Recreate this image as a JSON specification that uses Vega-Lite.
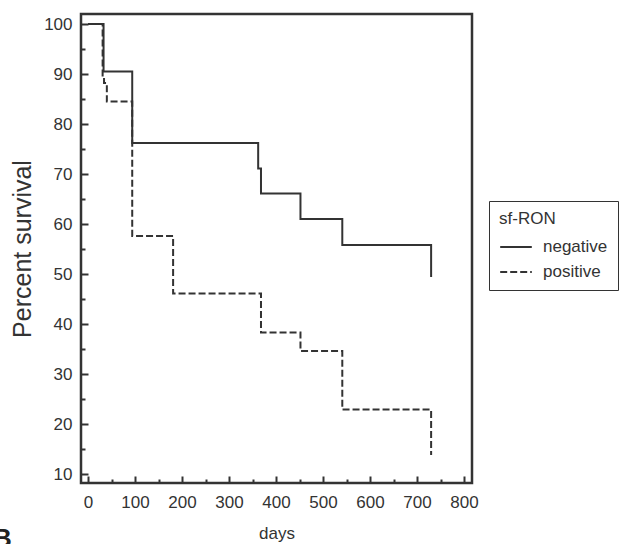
{
  "$schema": "https://vega.github.io/schema/vega-lite/v6.json",
  "width": 391,
  "height": 469,
  "autosize": {"type": "none"},
  "padding": {"left": 81, "top": 14, "right": 169, "bottom": 61},
  "background": "white",
  "title": {"text": "B", "orient": "bottom", "anchor": "start", "frame": "group", "fontSize": 26, "fontWeight": "bold", "color": "#222", "dx": -88, "dy": -15, "offset": 0, "baseline": "top"},
  "config": {
    "font": "Liberation Sans",
    "view": {"stroke": "#333", "strokeWidth": 2.5},
    "axis": {"grid": false, "domain": false, "tickColor": "#333", "tickWidth": 2, "labelColor": "#333", "titleColor": "#333", "titleFontWeight": "normal", "labelOverlap": false, "labelFlush": false}
  },
  "data": {
    "values": [
      {"sfRON": "negative", "i": 1, "days": 0, "survival": 100},
      {"sfRON": "negative", "i": 2, "days": 33, "survival": 90.5},
      {"sfRON": "negative", "i": 3, "days": 94, "survival": 76.2},
      {"sfRON": "negative", "i": 4, "days": 362, "survival": 71.1},
      {"sfRON": "negative", "i": 5, "days": 368, "survival": 66.1},
      {"sfRON": "negative", "i": 6, "days": 452, "survival": 61},
      {"sfRON": "negative", "i": 7, "days": 541, "survival": 55.8},
      {"sfRON": "negative", "i": 8, "days": 730, "survival": 55.8},
      {"sfRON": "negative", "i": 9, "days": 730, "survival": 49.4},
      {"sfRON": "positive", "i": 1, "days": 0, "survival": 100},
      {"sfRON": "positive", "i": 2, "days": 31, "survival": 89.5},
      {"sfRON": "positive", "i": 3, "days": 34, "survival": 88.2},
      {"sfRON": "positive", "i": 4, "days": 40, "survival": 84.5},
      {"sfRON": "positive", "i": 5, "days": 94, "survival": 57.6},
      {"sfRON": "positive", "i": 6, "days": 181, "survival": 46.1},
      {"sfRON": "positive", "i": 7, "days": 368, "survival": 38.3},
      {"sfRON": "positive", "i": 8, "days": 452, "survival": 34.6},
      {"sfRON": "positive", "i": 9, "days": 541, "survival": 22.9},
      {"sfRON": "positive", "i": 10, "days": 730, "survival": 22.9},
      {"sfRON": "positive", "i": 11, "days": 730, "survival": 13.8}
    ]
  },
  "mark": {"type": "line", "interpolate": "step-after", "strokeWidth": 2, "color": "#333"},
  "encoding": {
    "x": {
      "field": "days", "type": "quantitative",
      "scale": {"domain": [-15, 817], "nice": false, "zero": false},
      "axis": {
        "title": "days", "titleFontSize": 17, "titlePadding": 12,
        "values": [0, 50, 100, 150, 200, 250, 300, 350, 400, 450, 500, 550, 600, 650, 700, 750, 800],
        "labelExpr": "datum.value % 100 === 0 ? datum.label : ''",
        "labelFontSize": 17, "labelPadding": 18,
        "tickSize": {"condition": {"test": "datum.value % 100 === 0", "value": -7}, "value": -4}
      }
    },
    "y": {
      "field": "survival", "type": "quantitative",
      "scale": {"domain": [8.2, 102], "nice": false, "zero": false},
      "axis": {
        "title": "Percent survival", "titleFontSize": 25, "titlePadding": 8,
        "values": [10, 15, 20, 25, 30, 35, 40, 45, 50, 55, 60, 65, 70, 75, 80, 85, 90, 95, 100],
        "labelExpr": "datum.value % 10 === 0 ? datum.label : ''",
        "labelFontSize": 17, "labelPadding": 16,
        "tickSize": {"condition": {"test": "datum.value % 10 === 0", "value": -7}, "value": -4}
      }
    },
    "strokeDash": {
      "field": "sfRON", "type": "nominal",
      "scale": {"domain": ["negative", "positive"], "range": [[1, 0], [7, 3]]},
      "legend": {
        "title": "sf-RON", "orient": "none", "legendX": 408, "legendY": 187,
        "padding": 10, "strokeColor": "#333", "fillColor": "white",
        "titleFontSize": 17, "titleFontWeight": "normal", "titleColor": "#333", "titlePadding": 2,
        "labelFontSize": 17, "labelColor": "#333", "labelOffset": 10,
        "symbolType": "stroke", "symbolSize": 1000, "symbolStrokeWidth": 2, "symbolStrokeColor": "#333",
        "rowPadding": -9
      }
    },
    "order": {"field": "i", "type": "quantitative"}
  }
}
